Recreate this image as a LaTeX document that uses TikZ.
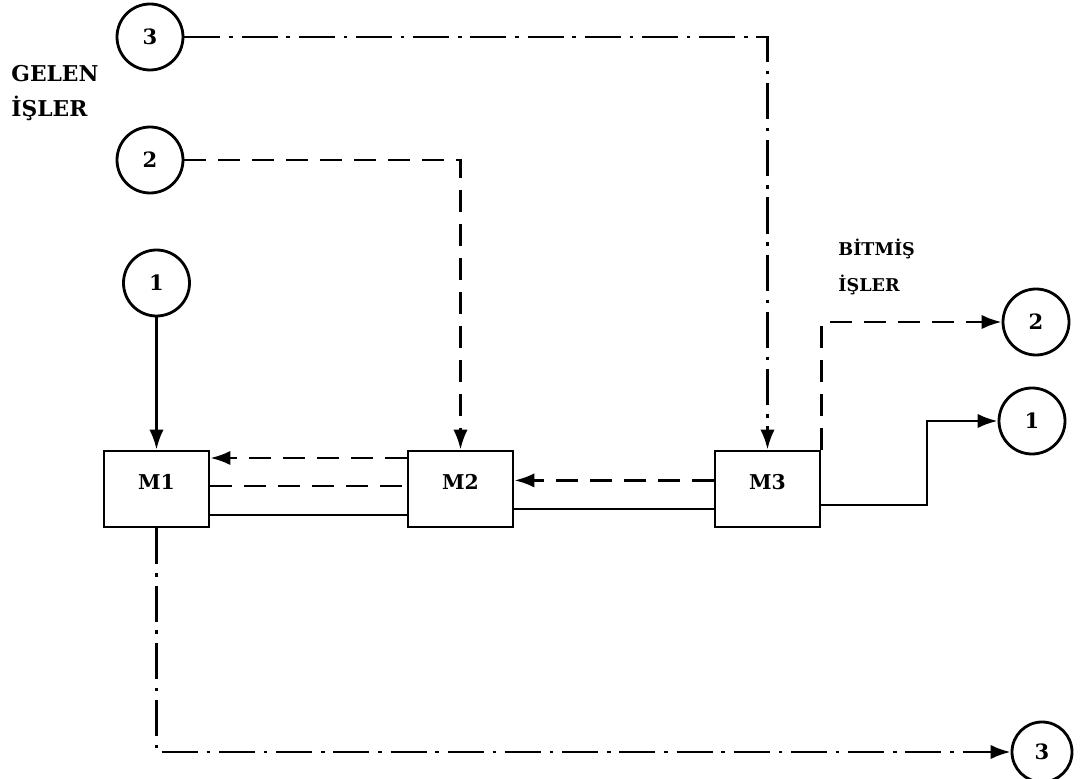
\documentclass[tikz,border=0pt]{standalone}
\usepackage{fontspec}
\setmainfont{DejaVu Serif}
\usetikzlibrary{arrows.meta,positioning,calc}

\begin{document}
\begin{tikzpicture}[
  line width=2pt,
  machine/.style={draw, minimum width=2.625cm, minimum height=1.9cm, inner sep=0pt,
                  font=\fontsize{14.5}{16}\selectfont\bfseries,
                  text height=0.37cm, text depth=0.36cm},
  job/.style={draw, circle, minimum size=1.65cm, inner sep=0pt,
              font=\fontsize{15}{16}\selectfont\bfseries},
  caption/.style={align=left, inner sep=0pt, anchor=west},
  flow/.style={-{Latex[length=5mm,width=3.6mm]}},
  route1/.style={solid},
  route2/.style={dash pattern=on 5.5mm off 3mm},
  route3/.style={dash pattern=on 9mm off 2.2mm on 0.9mm off 2.2mm},
]
\useasboundingbox (0,0) rectangle (27.05,19.45);

% machines
\node[machine] (m1) at (3.9125,7.225) {M1};
\node[machine] (m2) at (11.5125,7.225) {M2};
\node[machine] (m3) at (19.1875,7.225) {M3};

% incoming jobs
\node[job] (in3) at (3.75,18.525) {3};
\node[job] (in2) at (3.75,15.45) {2};
\node[job] (in1) at (3.9125,12.375) {1};
\node[caption, font=\fontsize{15.5}{25.5}\selectfont\bfseries] (gelen) at (0.25,17.125) {GELEN\\İŞLER};

% finished jobs
\node[job] (out2) at (25.9,11.4) {2};
\node[job] (out1) at (25.8,8.925) {1};
\node[job, minimum size=1.5cm] (out3) at (26.05,0.65) {3};
\node[caption, font=\fontsize{12.5}{26}\selectfont\bfseries] (bitmis) at (20.925,12.775) {BİTMİŞ\\İŞLER};

\coordinate (j1) at (23.175,8.925);

% job 1
\draw[flow, route1] (in1) -- (m1);
\draw[route1] ([yshift=-6.5mm]m1.east) -- ([yshift=-6.5mm]m2.west);
\draw[route1] ([yshift=-5mm]m2.east) -- ([yshift=-5mm]m3.west);
\draw[flow, route1] ([yshift=-4mm]m3.east) -| (j1) -- (out1);

% job 2
\draw[flow, route2] (in2) -| (m2);
\draw[route2] ([yshift=0.75mm]m1.east) -- ([yshift=0.75mm]m2.west);
\draw[flow, route2] ([yshift=7.75mm]m2.west) -- ([yshift=7.75mm]m1.east);
\draw[flow, route2] ([yshift=2.15mm]m3.west) -- ([yshift=2.15mm]m2.east);
\draw[flow, route2] (m3.north east) |- (out2);

% job 3
\draw[flow, route3] (in3) -| (m3);
\draw[flow, route3] (m1) |- (out3);

\end{tikzpicture}
\end{document}
